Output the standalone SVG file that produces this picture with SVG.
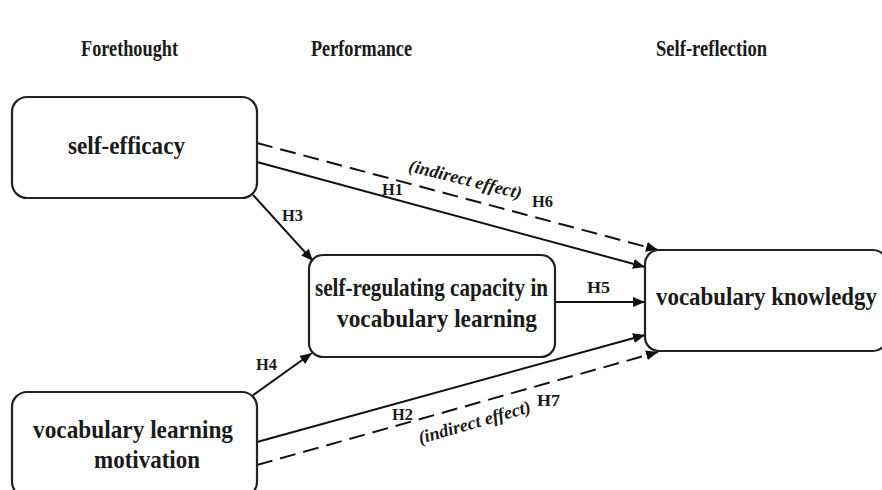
<svg xmlns="http://www.w3.org/2000/svg" width="882" height="490" viewBox="0 0 882 490">
  <style>
    .box { fill: #ffffff; stroke: #222222; stroke-width: 2.2; }
    .lbl { font-family: "Liberation Serif", "Times New Roman", serif; font-weight: bold; fill: #1a1a1a; }
    .head { font-size: 23px; }
    .node { font-size: 25px; }
    .hyp { font-size: 16px; }
    .eff { font-size: 18px; font-style: italic; }
    .solid { fill: none; stroke: #111111; stroke-width: 2; }
    .dash { fill: none; stroke: #111111; stroke-width: 2; stroke-dasharray: 16 8; }
  </style>
  <defs>
    <marker id="arrow" viewBox="0 0 12 10" refX="12" refY="5" markerWidth="12" markerHeight="10" markerUnits="userSpaceOnUse" orient="auto">
      <path d="M0,0 L12,5 L0,10 z" fill="#111111"/>
    </marker>
  </defs>
  <rect width="882" height="490" fill="#ffffff"/>

  <!-- phase headings -->
  <g id="headings">
    <text class="lbl head" x="81" y="56" textLength="97" lengthAdjust="spacingAndGlyphs">Forethought</text>
    <text class="lbl head" x="311" y="56" textLength="101" lengthAdjust="spacingAndGlyphs">Performance</text>
    <text class="lbl head" x="656" y="56" textLength="111" lengthAdjust="spacingAndGlyphs">Self-reflection</text>
  </g>

  <!-- connectors -->
  <g id="connectors">
    <line id="h6" class="dash" x1="257" y1="143" x2="658" y2="250" marker-end="url(#arrow)"/>
    <line id="h1" class="solid" x1="257" y1="162" x2="645" y2="267" marker-end="url(#arrow)"/>
    <line id="h3" class="solid" x1="253" y1="195" x2="313" y2="261" marker-end="url(#arrow)"/>
    <line id="h4" class="solid" x1="252" y1="396" x2="312" y2="353" marker-end="url(#arrow)"/>
    <line id="h5" class="solid" x1="555" y1="302" x2="645" y2="302" marker-end="url(#arrow)"/>
    <line id="h2" class="solid" x1="257" y1="442" x2="645" y2="335" marker-end="url(#arrow)"/>
    <line id="h7" class="dash" x1="257" y1="465" x2="658" y2="352" marker-end="url(#arrow)"/>

    <text class="lbl hyp" x="382" y="195" textLength="21" lengthAdjust="spacingAndGlyphs">H1</text>
    <text class="lbl hyp" x="532" y="207" textLength="21" lengthAdjust="spacingAndGlyphs">H6</text>
    <text class="lbl eff" transform="translate(464,185) rotate(14)" text-anchor="middle" textLength="116" lengthAdjust="spacingAndGlyphs">(indirect  effect)</text>
    <text class="lbl hyp" x="282" y="221" textLength="21" lengthAdjust="spacingAndGlyphs">H3</text>
    <text class="lbl hyp" x="256" y="370" textLength="21" lengthAdjust="spacingAndGlyphs">H4</text>
    <text class="lbl hyp" x="587" y="293" textLength="23" lengthAdjust="spacingAndGlyphs">H5</text>
    <text class="lbl hyp" x="392" y="420" textLength="21" lengthAdjust="spacingAndGlyphs">H2</text>
    <text class="lbl hyp" x="537" y="406" textLength="23" lengthAdjust="spacingAndGlyphs">H7</text>
    <text class="lbl eff" transform="translate(476,428) rotate(-16)" text-anchor="middle" textLength="116" lengthAdjust="spacingAndGlyphs">(indirect  effect)</text>
  </g>

  <!-- nodes -->
  <g id="self-efficacy">
    <rect class="box" x="12" y="97" width="245" height="101" rx="15" ry="15"/>
    <text class="lbl node" x="68" y="154" textLength="117" lengthAdjust="spacingAndGlyphs">self-efficacy</text>
  </g>

  <g id="self-regulating-capacity">
    <rect class="box" x="309" y="255" width="246" height="102" rx="14" ry="14"/>
    <text class="lbl node" x="315" y="296" textLength="233" lengthAdjust="spacingAndGlyphs">self-regulating capacity in</text>
    <text class="lbl node" x="337" y="327" textLength="200" lengthAdjust="spacingAndGlyphs">vocabulary learning</text>
  </g>

  <g id="vocabulary-knowledge">
    <rect class="box" x="645" y="250" width="242" height="101" rx="14" ry="14"/>
    <text class="lbl node" x="656" y="305" textLength="221" lengthAdjust="spacingAndGlyphs">vocabulary knowledgy</text>
  </g>

  <g id="vocabulary-learning-motivation">
    <rect class="box" x="12" y="392" width="245" height="105" rx="15" ry="15"/>
    <text class="lbl node" x="33" y="438" textLength="200" lengthAdjust="spacingAndGlyphs">vocabulary learning</text>
    <text class="lbl node" x="94" y="468" textLength="106" lengthAdjust="spacingAndGlyphs">motivation</text>
  </g>
</svg>
